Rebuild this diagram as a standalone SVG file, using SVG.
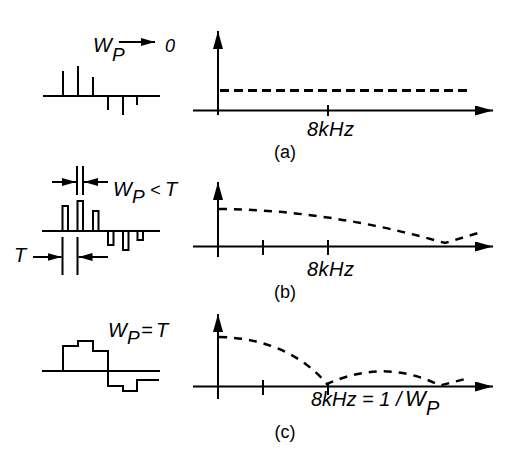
<svg xmlns="http://www.w3.org/2000/svg" width="530" height="455" viewBox="0 0 530 455">
<style>
.ln{stroke:#000;stroke-width:2;fill:none}
.ds{stroke:#000;stroke-width:2.5;fill:none;stroke-dasharray:8 7}
.t{font-family:"Liberation Sans",Arial,sans-serif;font-style:italic;font-size:20px;fill:#000}
.f{font-family:"Liberation Sans",Arial,sans-serif;font-style:italic;font-size:20px;fill:#000}
.c{font-family:"Liberation Sans",Arial,sans-serif;font-size:18px;fill:#000;text-anchor:middle}
</style>
<defs>
<marker id="ax" markerUnits="userSpaceOnUse" markerWidth="20" markerHeight="12" refX="18" refY="5" orient="auto"><path d="M0,0 L18,5 L0,10 Z" fill="#000"/></marker>
<marker id="sm" markerUnits="userSpaceOnUse" markerWidth="16" markerHeight="10" refX="14" refY="4" orient="auto"><path d="M0,0 L14,4 L0,8 Z" fill="#000"/></marker>
</defs>
<g id="panel-a-signal">
<path class="ln" d="M43,96 H160 M63,96 V71 M78,96 V66 M93,96 V77 M108,96 V110 M123,96 V115 M137,96 V105"/>
<line class="ln" x1="119" y1="42" x2="155" y2="42" marker-end="url(#sm)"/>
<text class="t" x="93" y="52">W<tspan x="112" dy="9" font-size="19">P</tspan><tspan x="165" dy="-9" font-size="18">0</tspan></text>
</g>
<g id="panel-a-spectrum">
<line class="ln" x1="218" y1="115" x2="218" y2="31" marker-end="url(#ax)"/>
<line class="ln" x1="193" y1="110.5" x2="493" y2="110.5" marker-end="url(#ax)"/>
<line class="ln" x1="328" y1="105" x2="328" y2="116"/>
<line x1="220" y1="90.5" x2="468" y2="90.5" stroke="#000" stroke-width="3" stroke-dasharray="9 5"/>
<text class="f" x="307" y="136" textLength="47">8kHz</text>
<text class="c" x="285" y="158">(a)</text>
</g>
<g id="panel-b-signal">
<path class="ln" d="M42,231 H160"/>
<path class="ln" d="M62.5,231 V206 H68 V231 M77.5,231 V201 H83 V231 M93,231 V211 H98.5 V231 M108,231 V245 H113.5 V231 M123,231 V250 H128.5 V231 M137.5,231 V240 H143 V231"/>
<path class="ln" d="M77,166 V195 M83,166 V195 M62.5,237 V275 M77.5,237 V275"/>
<line class="ln" x1="52" y1="182" x2="76" y2="182" marker-end="url(#sm)"/>
<line class="ln" x1="108" y1="182" x2="84" y2="182" marker-end="url(#sm)"/>
<line class="ln" x1="33" y1="257" x2="61.5" y2="257" marker-end="url(#sm)"/>
<line class="ln" x1="108" y1="257" x2="78.5" y2="257" marker-end="url(#sm)"/>
<text class="t" x="113" y="196">W<tspan x="132" dy="7" font-size="19">P</tspan><tspan x="150" dy="-7" font-size="18">&lt;</tspan><tspan x="165">T</tspan></text>
<text class="t" x="14" y="262">T</text>
</g>
<g id="panel-b-spectrum">
<line class="ln" x1="218" y1="257" x2="218" y2="182" marker-end="url(#ax)"/>
<line class="ln" x1="193" y1="246.5" x2="493" y2="246.5" marker-end="url(#ax)"/>
<line class="ln" x1="263" y1="240" x2="263" y2="255"/>
<line class="ln" x1="328" y1="240" x2="328" y2="255"/>
<path class="ds" d="M219,209 Q330,210 445,243 L478,233"/>
<text class="f" x="307" y="276" textLength="47">8kHz</text>
<text class="c" x="285" y="298">(b)</text>
</g>
<g id="panel-c-signal">
<path class="ln" d="M42,371 H160"/>
<path class="ln" d="M63,371 V346 H78 V341 H93 V351 H108 V386 H123 V391 H137 V380 H159"/>
<text class="t" x="108" y="337">W<tspan x="127" dy="7" font-size="19">P</tspan><tspan x="141" dy="-7">=</tspan><tspan x="156">T</tspan></text>
</g>
<g id="panel-c-spectrum">
<line class="ln" x1="218" y1="399" x2="218" y2="314" marker-end="url(#ax)"/>
<line class="ln" x1="193" y1="386.5" x2="493" y2="386.5" marker-end="url(#ax)"/>
<line class="ln" x1="263" y1="380" x2="263" y2="395"/>
<line class="ln" x1="328" y1="384" x2="328" y2="395"/>
<path class="ds" d="M219,337 C270,338 305,358 327,384 Q385,358 440,385.5 L465,379"/>
<text class="f" x="311" y="406">8kHz = 1 / <tspan x="405" font-size="22">W</tspan><tspan x="426" dy="9" font-size="20">P</tspan></text>
<text class="c" x="285" y="438">(c)</text>
</g>
</svg>
